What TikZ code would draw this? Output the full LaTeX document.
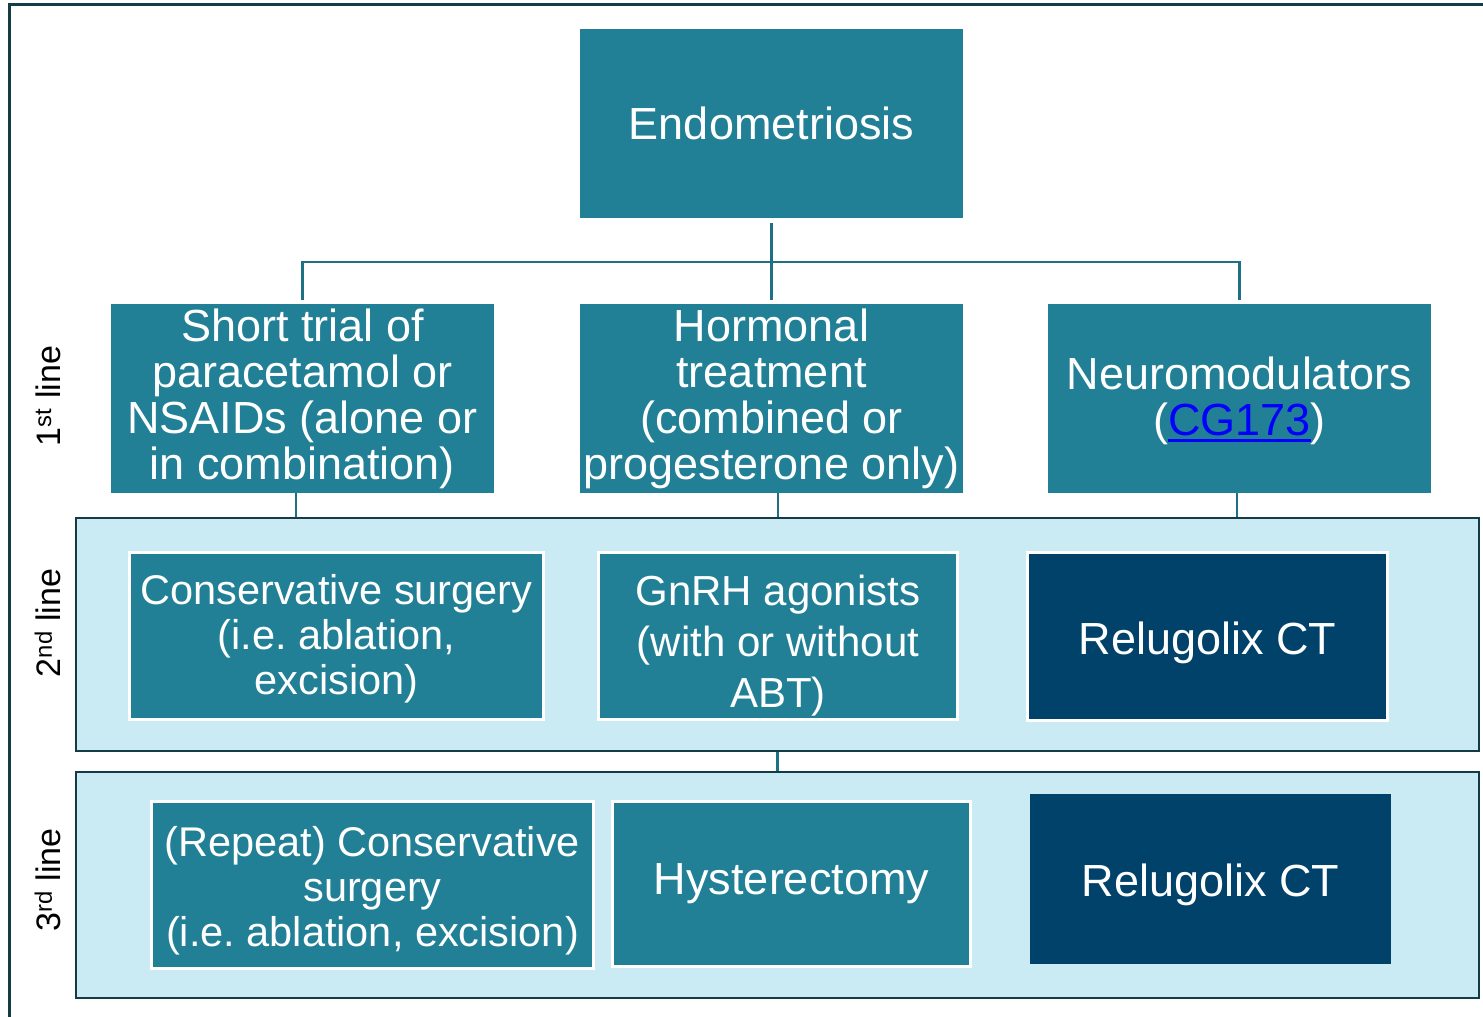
\documentclass[tikz,border=0pt]{standalone}
\usepackage{fontspec}
\setmainfont{Liberation Sans}
\frenchspacing
\definecolor{boxteal}{HTML}{228096}
\definecolor{boxnavy}{HTML}{00426A}
\definecolor{paleblue}{HTML}{CAEBF4}
\definecolor{framedark}{HTML}{133C47}
\definecolor{connteal}{HTML}{1F7084}
\definecolor{linkblue}{HTML}{0000FF}
\newlength\linkwd
\newcommand\linktext[1]{\settowidth\linkwd{#1}\textcolor{linkblue}{#1\llap{\rule[-6pt]{\linkwd}{3pt}}}}
\tikzset{
  tealbox/.style={fill=boxteal, text=white, inner sep=0pt, align=center,
    minimum width=383pt, minimum height=189pt, font=\fontsize{45}{46}\selectfont},
  edgedbox/.style={tealbox, draw=white, line width=3pt},
  lineframe/.style={fill=paleblue, draw=framedark, line width=2.5pt,
    minimum width=1403pt, inner sep=0pt},
  conn/.style={draw=connteal, line width=2.5pt},
  sidelabel/.style={rotate=90, font=\fontsize{34}{38}\selectfont}
}
\begin{document}
\begin{tikzpicture}[x=1pt,y=-1pt]
  \useasboundingbox (0,0) rectangle (1483,1017);
  \clip (0,0) rectangle (1483,1017);
  \draw[framedark, line width=3pt] (9.5,4) rectangle (1500,1030);

  % top and first line
  \node[tealbox] (endo) at (771.5,123.5) {Endometriosis};
  \node[tealbox] (pain) at (302.5,398.5) {Short trial of\\paracetamol or\\NSAIDs (alone or\\in combination)};
  \node[tealbox] (horm) at (771.5,398.5) {Hormonal\\treatment\\(combined or\\progesterone only)};
  \node[tealbox, text height=84pt] (neuro) at (1239.5,398.5) {Neuromodulators\\(\linktext{CG173})};

  % line frames
  \node[lineframe, minimum height=233pt] (second) at (777.5,634.5) {};
  \node[lineframe, minimum height=226pt] (third) at (777.5,885) {};

  % second line
  \node[edgedbox, minimum width=414pt, minimum height=167pt, text height=126pt,
    font=\fontsize{41.5}{45}\selectfont] (cons) at (336.5,636) {Conservative surgery\\(i.e. ablation,\\excision)};
  \node[edgedbox, minimum width=359pt, minimum height=167pt, text height=152pt,
    font=\fontsize{42}{51}\selectfont] (gnrh) at (778,636) {GnRH agonists\\(with or without\\ABT)};
  \node[edgedbox, fill=boxnavy, minimum width=360pt, minimum height=168pt,
    text height=45pt] (relu2) at (1207.5,636.5) {Relugolix CT};

  % third line
  \node[edgedbox, minimum width=442pt, minimum height=167pt, text height=131pt,
    font=\fontsize{41.5}{45}\selectfont] (repeat) at (372.5,885) {(Repeat) Conservative\\surgery\\(i.e. ablation, excision)};
  \node[edgedbox, minimum width=358pt, minimum height=165pt] (hyst) at (791.5,884) {Hysterectomy};
  \node[tealbox, fill=boxnavy, minimum width=361pt, minimum height=170pt,
    text height=44pt] (relu3) at (1210.5,879) {Relugolix CT};

  % connectors
  \coordinate (bus) at (771.5,262);
  \draw[conn] ([yshift=-5pt]endo.south) -- ([yshift=4pt]horm.north);
  \draw[conn] ([yshift=4pt]pain.north) |- (bus) -| ([yshift=4pt]neuro.north);
  \draw[conn] ([xshift=-6.5pt]pain.south) -- ([xshift=-6.5pt]pain.south |- second.north);
  \draw[conn] ([xshift=6.5pt]horm.south) -- ([xshift=6.5pt]horm.south |- second.north);
  \draw[conn] ([xshift=-2.5pt]neuro.south) -- ([xshift=-2.5pt]neuro.south |- second.north);
  \draw[conn] (second.south) -- (third.north);

  % side labels
  \node[sidelabel] (first label) at (48,396) {1\textsuperscript{st} line};
  \node[sidelabel] (second label) at (48,623) {2\textsuperscript{nd} line};
  \node[sidelabel] (third label) at (48,880) {3\textsuperscript{rd} line};
\end{tikzpicture}
\end{document}
